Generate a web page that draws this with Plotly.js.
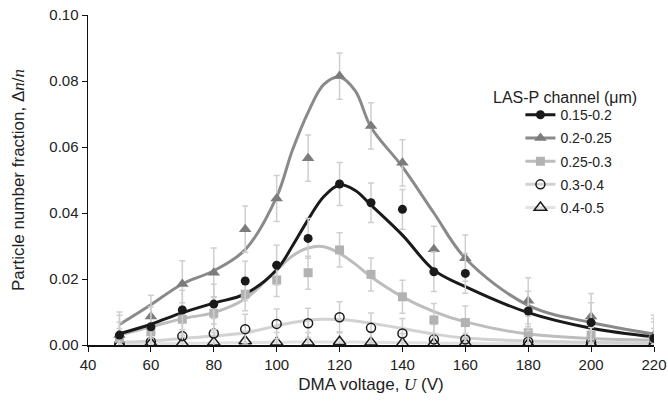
<!DOCTYPE html>
<html><head><meta charset="utf-8">
<script src="https://cdn.plot.ly/plotly-3.0.1.min.js"></script>
<style>html,body{margin:0;padding:0;background:#fff}#chart{width:668px;height:405px}</style>
</head><body><div id="chart"></div>
<script>
// Measured points
const voltage = [50,60,70,80,90,100,110,120,130,140,150,160,180,200,220];
const frac_015_02 = [0.0030,0.0055,0.0106,0.0124,0.0194,0.0242,0.0323,0.0488,0.0431,0.0411,0.0222,0.0217,0.0103,0.0068,0.0020];
const frac_02_025 = [0.0030,0.0086,0.0185,0.0219,0.0351,0.0444,0.0566,0.0815,0.0664,0.0552,0.0290,0.0263,0.0134,0.0086,0.0030];
const frac_025_03 = [0.0020,0.0040,0.0078,0.0096,0.0154,0.0197,0.0219,0.0288,0.0214,0.0146,0.0076,0.0068,0.0037,0.0030,0.0020];
const frac_03_04  = [0.0005,0.0010,0.0027,0.0035,0.0048,0.0064,0.0066,0.0084,0.0052,0.0035,0.0017,0.0017,0.0010,0.0008,0.0005];
const frac_04_05  = [0.0002,0.0005,0.0005,0.0008,0.0012,0.0008,0.0008,0.0010,0.0008,0.0005,0.0005,0.0005,0.0003,0.0003,0.0002];
// Error bar half-widths
const err_015_02 = [0.006,0.006,0.006,0.006,0.006,0.006,0.006,0.0065,0.006,0.006,0.006,0.006,0.006,0.006,0.006];
const err_02_025 = [0.007,0.0065,0.007,0.0075,0.007,0.007,0.007,0.007,0.007,0.007,0.007,0.007,0.007,0.007,0.006];
const err_025_03 = [0.005,0.005,0.005,0.005,0.005,0.005,0.005,0.0052,0.005,0.005,0.005,0.005,0.005,0.005,0.005];
const err_03_04  = [0.0045,0.0045,0.0045,0.0045,0.0045,0.0045,0.0045,0.0047,0.0045,0.0045,0.0045,0.0045,0.0045,0.0045,0.0045];
const err_04_05  = [0.003,0.003,0.003,0.003,0.003,0.003,0.003,0.003,0.003,0.003,0.003,0.003,0.003,0.003,0.003];
// Fitted curves
const fitU = [50,60,70,80,90,100,105,110,115,120,125,130,140,150,160,180,200,220];
const fit_015_02 = [0.0034,0.0063,0.0098,0.0127,0.0155,0.0228,0.0300,0.0380,0.0450,0.0485,0.0468,0.0424,0.0333,0.0227,0.0177,0.0098,0.0051,0.0025];
const fit_02_025 = [0.0062,0.0122,0.0185,0.0225,0.0289,0.0449,0.0590,0.0705,0.0790,0.0812,0.0770,0.0660,0.0540,0.0400,0.0263,0.0120,0.0068,0.0033];
const fit_025_03 = [0.0030,0.0055,0.0080,0.0098,0.0140,0.0227,0.0270,0.0294,0.0298,0.0278,0.0245,0.0207,0.0146,0.0101,0.0070,0.0033,0.0020,0.0015];
const fit_03_04  = [0.0008,0.0012,0.0020,0.0027,0.0037,0.0058,0.0068,0.0075,0.0078,0.0077,0.0073,0.0066,0.0050,0.0033,0.0021,0.0012,0.0008,0.0005];
const fit_04_05  = [0.0003,0.0004,0.0005,0.0006,0.0007,0.0008,0.0009,0.0009,0.0009,0.0009,0.0009,0.0008,0.0007,0.0006,0.0005,0.0004,0.0003,0.0002];
const labels = ['0.15-0.2','0.2-0.25','0.25-0.3','0.3-0.4','0.4-0.5'];
const legendTitle = 'LAS-P channel (μm)';

const ys = [frac_015_02,frac_02_025,frac_025_03,frac_03_04,frac_04_05];
const errs = [err_015_02,err_02_025,err_025_03,err_03_04,err_04_05];
const fits = [fit_015_02,fit_02_025,fit_025_03,fit_03_04,fit_04_05];
const lineCol = ['#1a1a1a','#8a8a8a','#bdbdbd','#d2d2d2','#e2e2e2'];
const mk = [
  {symbol:'circle',color:'#1a1a1a',size:9},
  {symbol:'triangle-up',color:'#7c7c7c',size:11},
  {symbol:'square',color:'#b2b2b2',size:9},
  {symbol:'circle-open',color:'#1a1a1a',size:9,line:{width:1.5,color:'#1a1a1a'}},
  {symbol:'triangle-up-open',color:'#1a1a1a',size:11,line:{width:1.5,color:'#1a1a1a'}}
];
const traces = [];
for (let i=4;i>=0;i--) {
  traces.push({x:fitU,y:fits[i],mode:'lines',line:{color:lineCol[i],width:3,shape:'spline',smoothing:1},showlegend:false,hoverinfo:'skip'});
}
for (let i=4;i>=0;i--) {
  traces.push({x:voltage,y:ys[i],mode:'markers',marker:mk[i],showlegend:false,
    error_y:{type:'data',array:errs[i],visible:true,color:'#cfcfcf',thickness:1.5,width:3}});
}
for (let i=0;i<5;i++) {
  traces.push({x:[null],y:[null],mode:'lines+markers',name:labels[i],line:{color:lineCol[i],width:3},marker:mk[i],legendgroup:'g'+i});
}
const ital = t => '<span style="font-family:Liberation Serif,Times New Roman,serif;font-style:italic">'+t+'</span>';

const layout = {
  width:668,height:405,
  margin:{l:88,r:14,t:15,b:60},
  paper_bgcolor:'#fff',plot_bgcolor:'#fff',
  font:{family:'Liberation Sans, Arial, sans-serif',size:15,color:'#222'},
  xaxis:{range:[40,220],dtick:20,tick0:40,showline:true,linecolor:'#111',linewidth:1.5,
    ticks:'outside',ticklen:5,tickcolor:'#111',showgrid:false,zeroline:false,tickfont:{size:15},
    title:{text:'DMA voltage, '+ital('U')+' (V)',font:{size:17},standoff:6}},
  yaxis:{range:[0,0.10],dtick:0.02,tickformat:'.2f',showline:true,linecolor:'#111',linewidth:1.5,
    ticks:'outside',ticklen:5,tickcolor:'#111',showgrid:false,zeroline:false,tickfont:{size:15},
    title:{text:'Particle number fraction, Δ'+ital('n')+'/'+ital('n'),font:{size:17},standoff:20}},
  legend:{x:0.764,xanchor:'left',y:0.745,yanchor:'top',bgcolor:'rgba(0,0,0,0)',
    font:{size:14},tracegroupgap:2},
  annotations:[{text:legendTitle,xref:'paper',yref:'paper',x:0.842,y:(345-98)/330,xanchor:'center',yanchor:'middle',
    showarrow:false,font:{size:16,color:'#222'}}],
  showlegend:true
};
Plotly.newPlot('chart',traces,layout,{displayModeBar:false,staticPlot:true});
</script></body></html>
